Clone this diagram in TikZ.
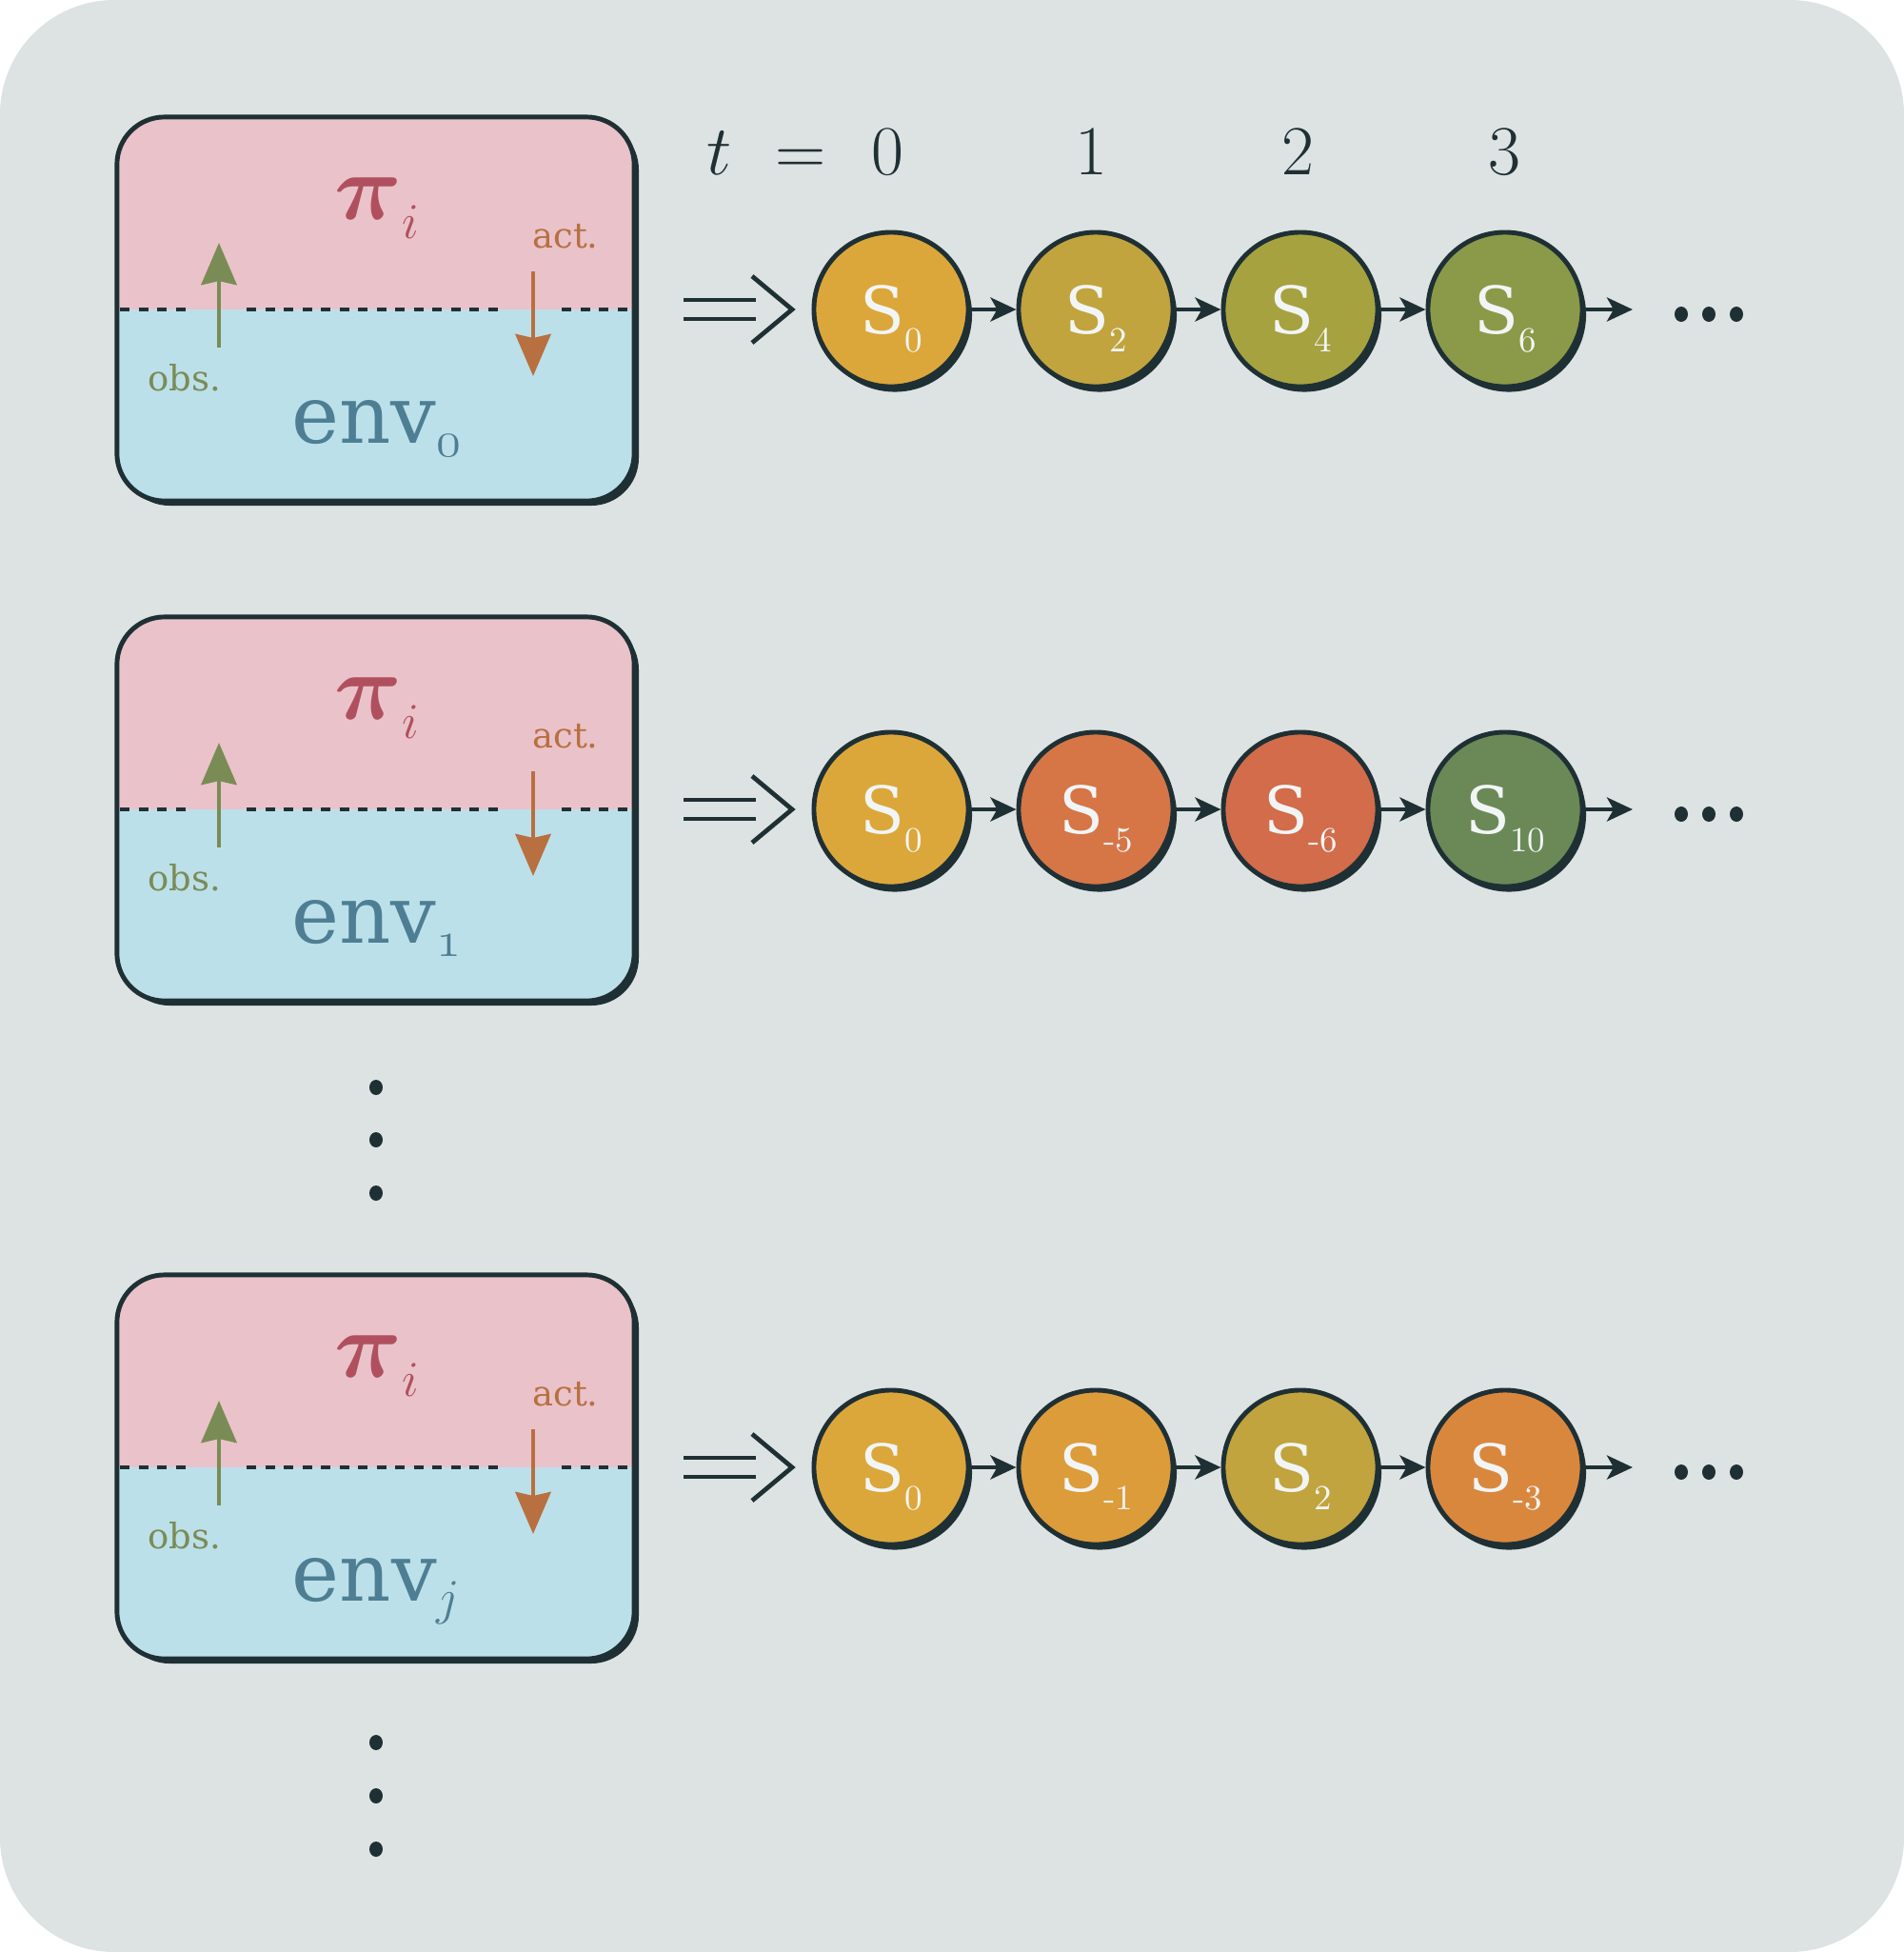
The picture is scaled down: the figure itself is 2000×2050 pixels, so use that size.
\RequirePackage{fix-cm}
\documentclass[tikz,border=0pt]{standalone}
\usepackage{fontspec}
\newfontfamily\dvs{DejaVu Serif}
\usetikzlibrary{arrows.meta,shadows}
\definecolor{bg}{HTML}{DDE3E3}
\definecolor{dark}{HTML}{1F3035}
\definecolor{pinkf}{HTML}{EAC2CA}
\definecolor{bluef}{HTML}{BCE0EA}
\definecolor{picol}{HTML}{B0505E}
\definecolor{envcol}{HTML}{4E7E93}
\definecolor{obscol}{HTML}{7A8C55}
\definecolor{actcol}{HTML}{B87040}
\definecolor{cA}{HTML}{DCA73A}
\definecolor{cB}{HTML}{C1A43D}
\definecolor{cC}{HTML}{A6A240}
\definecolor{cD}{HTML}{8B9A48}
\definecolor{cE}{HTML}{D67647}
\definecolor{cF}{HTML}{D26C4A}
\definecolor{cG}{HTML}{6A8957}
\definecolor{cH}{HTML}{DC9C3A}
\definecolor{cI}{HTML}{DA873E}
\definecolor{txtw}{HTML}{F2F5F5}
\tikzset{
  envbox/.style={draw=dark, line width=1.4pt, rounded corners=0.5cm,
    minimum width=5.43cm, minimum height=4.03cm, inner sep=0pt},
  state/.style={circle, draw=dark, line width=1.4pt, minimum size=1.62cm,
    inner sep=0pt, text=txtw, font=\dvs\fontsize{19.5}{19.5}\selectfont, text depth=0pt,
    general shadow={fill=dark, shadow xshift=0.04cm, shadow yshift=-0.055cm}},
  conn/.style={draw=dark, line width=1.3pt, -{Stealth[length=0.27cm, width=0.25cm, inset=0.07cm]}},
  midline/.style={draw=dark, line width=1pt, dash pattern=on 0.1cm off 0.095cm},
  obsarrow/.style={draw=obscol, line width=1.4pt, -{Stealth[length=0.44cm, width=0.37cm, inset=0.04cm]}},
  actarrow/.style={draw=actcol, line width=1.4pt, -{Stealth[length=0.44cm, width=0.37cm, inset=0.04cm]}},
  dbl/.style={draw=dark, line width=1.35pt},
  tlabel/.style={anchor=base, text=dark, font=\fontsize{21}{21}\selectfont},
  smalllbl/.style={anchor=base, font=\dvs\fontsize{10.5}{10.5}\selectfont},
}
\newcommand\envrow[2]{%
  \fill[dark, rounded corners=0.5cm] (128,128) rectangle (671,531);
  \begin{scope}
    \clip[rounded corners=0.5cm] (123,123) rectangle (666,526);
    \fill[pinkf] (123,123) rectangle (666,325);
    \fill[bluef] (123,325) rectangle (666,526);
  \end{scope}
  \node[envbox] (box#1) at (394.5,324.5) {};
  \coordinate (mA#1) at (126,325); \coordinate (mB#1) at (196,325);
  \coordinate (mC#1) at (259,325); \coordinate (mD#1) at (532,325);
  \coordinate (mE#1) at (590,325); \coordinate (mF#1) at (663,325);
  \draw[midline] (mA#1) -- (mB#1);
  \draw[midline] (mC#1) -- (mD#1);
  \draw[midline] (mE#1) -- (mF#1);
  \coordinate (ot#1) at (230,365); \coordinate (oh#1) at (230,255);
  \draw[obsarrow] (ot#1) -- (oh#1);
  \coordinate (at#1) at (560,285); \coordinate (ah#1) at (560,395);
  \draw[actarrow] (at#1) -- (ah#1);
  \node[anchor=base, text=picol, font=\fontsize{28}{28}\selectfont] (pi#1) at (396,230)
    {{\boldmath$\pi$}\raisebox{-5.7pt}{\fontsize{15}{15}\selectfont$i$}};
  \node[anchor=base, text=envcol, font=\dvs\fontsize{24}{24}\selectfont] (env#1) at (395,465)
    {env\raisebox{-4.2pt}{\fontsize{15}{15}\selectfont #2}};
  \node[smalllbl, text=obscol] (obs#1) at (194,410) {obs.};
  \node[smalllbl, text=actcol] (act#1) at (594,260) {act.};
  \draw[dbl] (718,315) -- (794,315);
  \draw[dbl] (718,335) -- (794,335);
  \draw[dbl] (790,290) -- (832,325) -- (790,360);
}
\newcommand\chain[2]{%
  \foreach \col/\lab [count=\k] in {#2} {
    \node[state, fill=\col] (r#1c\k) at ({936+(\k-1)*215},325)
      {S\raisebox{-5.5pt}{\rmfamily\fontsize{10.5}{10.5}\selectfont \lab}};
  }
  \foreach \a/\b in {1/2,2/3,3/4} \draw[conn] (r#1c\a) -- (r#1c\b);
  \coordinate (end#1) at (1715,325);
  \draw[conn] (r#1c4) -- (end#1);
  \fill[dark] (1766,330) ellipse (7 and 8);
  \fill[dark] (1795,330) ellipse (7 and 8);
  \fill[dark] (1824,330) ellipse (7 and 8);
}
\begin{document}
\begin{tikzpicture}[x=0.01cm, y=-0.01cm]
  \useasboundingbox (0,0) rectangle (2000,2050);
  \fill[bg, rounded corners=1.2cm] (0,0) rectangle (2000,2050);

  \node[tlabel] (tt) at (756,183) {$t$};
  \node[tlabel] (teq) at (841,183) {$=$};
  \node[tlabel] (t0) at (932,183) {$0$};
  \node[tlabel] (t1) at (1146,183) {$1$};
  \node[tlabel] (t2) at (1363,183) {$2$};
  \node[tlabel] (t3) at (1580,183) {$3$};

  \begin{scope}
    \envrow{1}{$\mathnormal{0}$}
    \chain{1}{cA/0,cB/2,cC/4,cD/6}
  \end{scope}
  \begin{scope}[shift={(0,525)}]
    \envrow{2}{$\mathnormal{1}$}
    \chain{2}{cA/0,cE/-5,cF/-6,cG/10}
  \end{scope}
  \begin{scope}[shift={(0,1216)}]
    \envrow{3}{$j$}
    \chain{3}{cA/0,cH/-1,cB/2,cI/-3}
  \end{scope}

  \fill[dark] (395,1142) ellipse (7 and 8);
  \fill[dark] (395,1197) ellipse (7 and 8);
  \fill[dark] (395,1253) ellipse (7 and 8);
  \fill[dark] (395,1830) ellipse (7 and 8);
  \fill[dark] (395,1886) ellipse (7 and 8);
  \fill[dark] (395,1942) ellipse (7 and 8);
\end{tikzpicture}
\end{document}
